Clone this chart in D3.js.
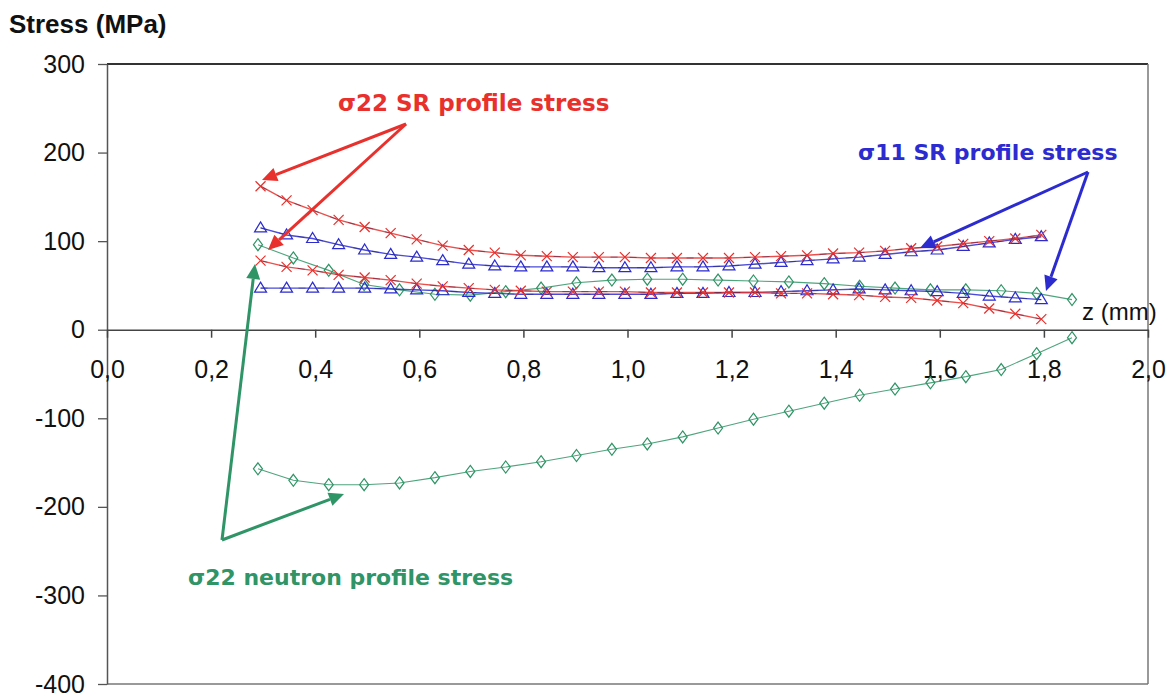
<!DOCTYPE html>
<html>
<head>
<meta charset="utf-8">
<script src="https://cdn.jsdelivr.net/npm/d3@7"></script>
<style>
  html, body { margin: 0; padding: 0; background: #fff; }
  svg { display: block; }
</style>
</head>
<body>
<svg id="chart" width="1175" height="697"></svg>
<script>
// depth positions (mm) of the synchrotron (SR) profile points
const zSR = [0.295, 0.345, 0.395, 0.445, 0.495, 0.545, 0.595, 0.645, 0.695, 0.745,
             0.795, 0.845, 0.895, 0.945, 0.995, 1.045, 1.095, 1.145, 1.195, 1.245,
             1.295, 1.345, 1.395, 1.445, 1.495, 1.545, 1.595, 1.645, 1.695, 1.745, 1.795];

// sigma22 SR profiles (MPa)
const s22SRUpper = [162, 146, 135, 124, 116, 109, 102, 95, 90, 87,
                    84, 83, 82, 82, 82, 81, 81, 81, 81, 82,
                    83, 84, 86, 87, 89, 92, 94, 97, 100, 103, 107];
const s22SRLower = [78, 71, 67, 62, 59, 56, 52, 49, 47, 45,
                    44, 43, 43, 43, 43, 42, 42, 42, 42, 42,
                    41, 41, 40, 39, 37, 36, 33, 30, 24, 18, 12];

// sigma11 SR profiles (MPa)
const s11SRUpper = [115, 107, 103, 96, 90, 85, 82, 78, 74, 72,
                    71, 71, 71, 70, 70, 70, 71, 71, 72, 74,
                    76, 78, 80, 82, 85, 88, 90, 94, 98, 102, 105];
const s11SRLower = [47, 47, 47, 47, 47, 46, 45, 44, 42, 41,
                    40, 40, 40, 40, 40, 40, 41, 41, 42, 42,
                    43, 44, 45, 46, 45, 44, 43, 41, 38, 36, 34];

// depth positions (mm) of the neutron profile points
const zNeutron = [0.29, 0.358, 0.426, 0.494, 0.562, 0.63, 0.698, 0.766, 0.834, 0.902,
                  0.97, 1.038, 1.106, 1.174, 1.242, 1.31, 1.378, 1.446, 1.514, 1.582,
                  1.65, 1.718, 1.786, 1.854];

// sigma22 neutron profiles (MPa)
const s22NeutronUpper = [96, 81, 67, 51, 45, 40, 39, 43, 47, 53,
                         56, 57, 57, 56, 55, 54, 52, 49, 47, 45,
                         45, 44, 41, 34];
const s22NeutronLower = [-157, -170, -175, -175, -173, -167, -160, -155, -149, -142,
                         -135, -129, -121, -111, -101, -92, -83, -74, -67, -60,
                         -53, -45, -27, -9];

// axis ticks
const xTicks = [0, 0.2, 0.4, 0.6, 0.8, 1.0, 1.2, 1.4, 1.6, 1.8, 2.0];
const xTickLabels = ["0,0", "0,2", "0,4", "0,6", "0,8", "1,0", "1,2", "1,4", "1,6", "1,8", "2,0"];
const yTicks = [300, 200, 100, 0, -100, -200, -300, -400];
const yTickLabels = ["300", "200", "100", "0", "-100", "-200", "-300", "-400"];

const RED = "#e8302c", BLUE = "#2b2bd0", GREEN = "#2f9466";

const svg = d3.select("#chart");
const x = d3.scaleLinear().domain([0, 2]).range([107, 1148]);
const y = d3.scaleLinear().domain([-400, 300]).range([684, 64]);

const tickFont = "'Liberation Sans', Arial, sans-serif";

// plot frame
svg.append("line").attr("x1", x(0)).attr("x2", x(2)).attr("y1", y(300)).attr("y2", y(300))
  .attr("stroke", "#333").attr("stroke-width", 2);
svg.append("line").attr("x1", x(2)).attr("x2", x(2)).attr("y1", y(300)).attr("y2", y(-400))
  .attr("stroke", "#777").attr("stroke-width", 1.5);
svg.append("line").attr("x1", x(0)).attr("x2", x(2)).attr("y1", y(-400)).attr("y2", y(-400))
  .attr("stroke", "#777").attr("stroke-width", 1.5);

// y axis
const yAxis = svg.append("g").attr("transform", `translate(${x(0)},0)`)
  .call(d3.axisLeft(y).tickValues(yTicks).tickSize(9).tickSizeOuter(0).tickPadding(13)
        .tickFormat((d, i) => yTickLabels[i]));
yAxis.select(".domain").attr("stroke", "#555").attr("stroke-width", 1.5);
yAxis.selectAll(".tick line").attr("stroke", "#555").attr("stroke-width", 1.3);
yAxis.selectAll("text").attr("font-family", tickFont).attr("font-size", 25).attr("fill", "#111");

// x axis through zero
const xAxis = svg.append("g").attr("transform", `translate(0,${y(0)})`)
  .call(d3.axisBottom(x).tickValues(xTicks).tickSize(8).tickSizeOuter(0).tickPadding(23)
        .tickFormat((d, i) => xTickLabels[i]));
xAxis.select(".domain").attr("stroke", "#444").attr("stroke-width", 1.5);
xAxis.selectAll(".tick line").attr("stroke", "#444").attr("stroke-width", 1.5);
xAxis.selectAll("text").attr("font-family", tickFont).attr("font-size", 25).attr("fill", "#111");

// axis titles
svg.append("text").attr("x", 9).attr("y", 33)
  .attr("font-family", tickFont).attr("font-weight", "bold").attr("font-size", 26)
  .attr("fill", "#111").text("Stress (MPa)");
svg.append("text").attr("x", 1082).attr("y", 320)
  .attr("font-family", tickFont).attr("font-size", 24)
  .attr("fill", "#111").text("z (mm)");

const line = d3.line().x(d => x(d[0])).y(d => y(d[1]));
const pairs = (zs, vs) => zs.map((z, i) => [z, vs[i]]);

const series = [
  { z: zNeutron, v: s22NeutronUpper, color: GREEN, marker: "diamond", w: 1.1 },
  { z: zNeutron, v: s22NeutronLower, color: GREEN, marker: "diamond", w: 1.1 },
  { z: zSR, v: s11SRLower, color: BLUE, marker: "triangle", w: 1.4 },
  { z: zSR, v: s11SRUpper, color: BLUE, marker: "triangle", w: 1.4 },
  { z: zSR, v: s22SRLower, color: RED, marker: "cross", w: 1.4 },
  { z: zSR, v: s22SRUpper, color: RED, marker: "cross", w: 1.4 }
];

const markerPath = {
  cross: "M-5,-5L5,5M-5,5L5,-5",
  triangle: "M0,-6L6,4L-6,4Z",
  diamond: "M0,-6L4.5,0L0,6L-4.5,0Z"
};

series.forEach(s => {
  const pts = pairs(s.z, s.v);
  svg.append("path").datum(pts).attr("d", line)
    .attr("fill", "none").attr("stroke", s.color).attr("stroke-width", s.w)
    .attr("stroke-opacity", 0.85);
  if (s.marker !== "diamond") {
    svg.append("path").datum(pts).attr("d", line)
      .attr("fill", "none").attr("stroke", "#1a1a55").attr("stroke-width", 1)
      .attr("stroke-dasharray", "7 12").attr("stroke-opacity", 0.45);
  }
  svg.append("g").selectAll("path").data(pts).join("path")
    .attr("transform", d => `translate(${x(d[0])},${y(d[1])})`)
    .attr("d", markerPath[s.marker])
    .attr("fill", "none").attr("stroke", s.color).attr("stroke-width", 1.2);
});

// annotation arrows
function arrow(x1, y1, x2, y2, color) {
  const ang = Math.atan2(y2 - y1, x2 - x1);
  const len = 15, half = 7;
  const bx = x2 - len * Math.cos(ang), by = y2 - len * Math.sin(ang);
  svg.append("line").attr("x1", x1).attr("y1", y1).attr("x2", bx).attr("y2", by)
    .attr("stroke", color).attr("stroke-width", 3);
  const px = -Math.sin(ang) * half, py = Math.cos(ang) * half;
  svg.append("path")
    .attr("d", `M${x2},${y2}L${bx + px},${by + py}L${bx - px},${by - py}Z`)
    .attr("fill", color);
}

const labelFont = "'DejaVu Sans', Verdana, sans-serif";
function label(tx, ty, text, color, size) {
  svg.append("text").attr("x", tx).attr("y", ty)
    .attr("font-family", labelFont).attr("font-weight", "bold").attr("font-size", size)
    .attr("fill", color).text(text);
}

label(338, 111, "σ22 SR profile stress", RED, 23);
arrow(406, 124, 262, 180, RED);
arrow(406, 124, 268, 250, RED);

label(858, 160, "σ11 SR profile stress", BLUE, 22);
arrow(1088, 172, 920, 248, BLUE);
arrow(1088, 172, 1046, 291, BLUE);

label(188, 585, "σ22 neutron profile stress", GREEN, 22);
arrow(222, 540, 255, 264, GREEN);
arrow(222, 540, 344, 494, GREEN);
</script>
</body>
</html>
